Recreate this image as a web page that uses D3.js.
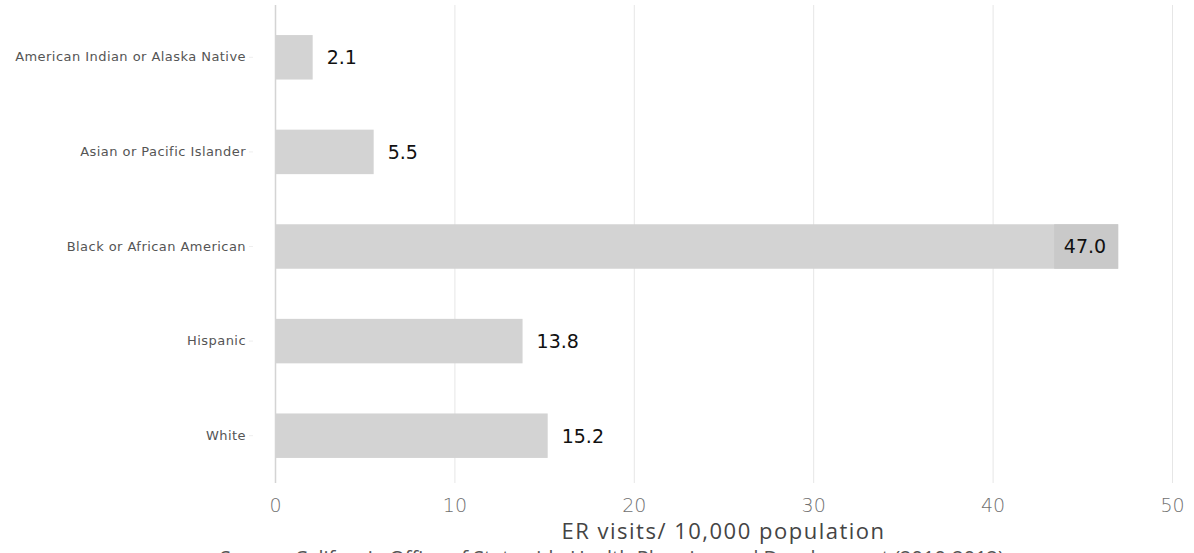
<!DOCTYPE html>
<html>
<head>
<meta charset="utf-8">
<script src="https://cdn.jsdelivr.net/npm/d3@7"></script>
<style>
  html, body { margin: 0; padding: 0; background: #fff; }
  svg { display: block; }
</style>
</head>
<body>
<svg id="chart" width="1194" height="553"></svg>
<script>
const categories = ["American Indian or Alaska Native", "Asian or Pacific Islander", "Black or African American", "Hispanic", "White"];
const values = [2.1, 5.5, 47.0, 13.8, 15.2];
const xTicks = [0, 10, 20, 30, 40, 50];
const xTitle = "ER visits/ 10,000 population";
const sourceText = "Source: California Office of Statewide Health Planning and Development (2010-2012)";

(function () {
const svg = d3.select("#chart");
const mLeft = 275, mRight = 1172, mTop = 10, mBottom = 483;

const x = d3.scaleLinear().domain([0, 50]).range([mLeft, mRight]);
const y = d3.scaleBand().domain(categories).range([mTop, mBottom]).paddingInner(0.53).paddingOuter(0.265);

// gridlines
svg.append("g").selectAll("line").data(xTicks.slice(1)).join("line")
  .attr("x1", d => x(d) + 0.5).attr("x2", d => x(d) + 0.5)
  .attr("y1", 5).attr("y2", mBottom)
  .attr("stroke", "#e6e6e6").attr("stroke-width", 1);

// bars
const data = categories.map((c, i) => ({ c, v: values[i] }));
svg.append("g").selectAll("rect").data(data).join("rect")
  .attr("x", x(0) + 1).attr("y", d => y(d.c))
  .attr("width", d => x(d.v) - x(0) - 1).attr("height", y.bandwidth())
  .attr("fill", "#d3d3d3");

// axis line
svg.append("line").attr("x1", mLeft + 0.5).attr("x2", mLeft + 0.5).attr("y1", 5).attr("y2", mBottom)
  .attr("stroke", "#d4d4d4").attr("stroke-width", 1.5);

// category labels
const yAxis = d3.axisLeft(y).tickSize(4).tickPadding(3);
const gy = svg.append("g").attr("transform", `translate(${mLeft - 22},0)`).call(yAxis);
gy.select(".domain").remove();
gy.selectAll(".tick line").attr("stroke", "#eeeeee");
gy.selectAll(".tick text").attr("fill", "#555").style("font-family", "DejaVu Sans, sans-serif")
  .style("font-size", "13px").style("letter-spacing", "0.45px");

// x tick labels
const xAxis = d3.axisBottom(x).tickValues(xTicks).tickSize(0).tickPadding(0);
const gx = svg.append("g").attr("transform", `translate(0,${mBottom + 15})`).call(xAxis);
gx.select(".domain").remove();
gx.selectAll(".tick text").attr("fill", "#707070").style("font-family", "DejaVu Sans, sans-serif").style("font-size", "19px").style("font-weight", "300");

// value labels
const big = 40;
const lab = svg.append("g");
data.forEach(d => {
  const cy = y(d.c) + y.bandwidth() / 2;
  if (d.v > big) {
    lab.append("rect").attr("x", x(d.v) - 64).attr("y", y(d.c)).attr("width", 64).attr("height", y.bandwidth()).attr("fill", "#c9c9c9");
    lab.append("text").attr("x", x(d.v) - 12).attr("y", cy).attr("dy", "0.36em").attr("text-anchor", "end")
      .attr("fill", "#111").style("font-family", "DejaVu Sans, sans-serif").style("font-size", "19px").text(d.v.toFixed(1));
  } else {
    lab.append("text").attr("x", x(d.v) + 14).attr("y", cy).attr("dy", "0.36em")
      .attr("fill", "#111").style("font-family", "DejaVu Sans, sans-serif").style("font-size", "19px").text(d.v.toFixed(1));
  }
});

// axis title
svg.append("text").attr("x", (mLeft + mRight) / 2).attr("y", 539).attr("text-anchor", "middle")
  .attr("fill", "#444").style("font-family", "Open Sans, sans-serif").style("font-size", "22px")
  .style("letter-spacing", "1.5px").text(xTitle);

// source
svg.append("text").attr("x", 612).attr("y", 565).attr("text-anchor", "middle")
  .attr("fill", "#555").style("font-family", "Open Sans, sans-serif").style("font-size", "20px").text(sourceText);
})();
</script>
</body>
</html>
